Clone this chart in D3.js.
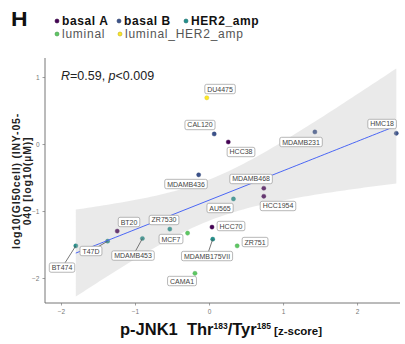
<!DOCTYPE html>
<html><head><meta charset="utf-8">
<script src="https://cdn.jsdelivr.net/npm/d3@7"></script>
<style>
html,body{margin:0;padding:0;background:#fff;}
svg{display:block;font-family:"Liberation Sans",Arial,sans-serif;}
</style></head>
<body><svg id="c" width="405" height="344"></svg>
<script>
// ---- data ----
const cellLines = ["DU4475","CAL120","HCC38","MDAMB231","HMC18","MDAMB436","MDAMB468","HCC1954","AU565","HCC70","ZR751","MDAMB175VII","CAMA1","MCF7","ZR7530","BT20","T47D","MDAMB453","BT474"];
const pJNK = [-0.03,0.07,0.26,1.43,2.53,-0.14,0.74,0.74,0.33,0.04,0.38,0.05,-0.19,-0.53,-0.29,-1.24,-1.37,-0.90,-1.80];
const logGI50 = [0.69,0.15,0.03,0.18,0.16,-0.46,-0.66,-0.78,-0.82,-1.24,-1.52,-1.42,-1.93,-1.27,-1.33,-1.30,-1.45,-1.41,-1.52];
const subtype = ["luminal_HER2_amp","basal B","basal A","basal B","basal B","basal B","basal A","basal A","HER2_amp","basal A","luminal","HER2_amp","luminal","HER2_amp","luminal","basal A","HER2_amp","HER2_amp","HER2_amp"];
// label (repel) positions, data units
const labelX = [0.149,-0.122,0.432,1.243,2.338,-0.311,0.568,0.932,0.149,0.297,0.622,-0.027,-0.365,-0.514,-0.608,-1.081,-1.595,-1.027,-1.986];
const labelY = [0.821,0.284,-0.119,0.030,0.299,-0.597,-0.522,-0.925,-0.955,-1.224,-1.463,-1.672,-2.045,-1.418,-1.134,-1.164,-1.597,-1.665,-1.844];
const connectorNames = ["BT474","T47D","MDAMB453","MDAMB175VII"];
const subtypes = ["basal A","basal B","HER2_amp","luminal","luminal_HER2_amp"];
const subtypeColors = ["#440154","#3B528B","#21908C","#5DC863","#FDE725"];
const xTicks = [-2,-1,0,1,2];
const yTicks = [-2,-1,0,1];
const statText = {R:"0.59", p:"0.009"};

const svg = d3.select("#c");
const x = d3.scaleLinear().domain([-2.216, 2.58]).range([45, 400]);
const y = d3.scaleLinear().domain([-2.373, 1.284]).range([303, 58]);
const col = d3.scaleOrdinal().domain(subtypes).range(subtypeColors);

const pts = cellLines.map((n,i)=>({name:n, x:pJNK[i], y:logGI50[i], s:subtype[i], lx:labelX[i], ly:labelY[i]}));

// ---- axes ----
const xa = svg.append("g").attr("transform","translate(0,303)")
  .call(d3.axisBottom(x).tickValues(xTicks).tickSize(2.5).tickPadding(4).tickFormat(d3.format("d")));
const ya = svg.append("g").attr("transform","translate(45,0)")
  .call(d3.axisLeft(y).tickValues(yTicks).tickSize(2.5).tickPadding(3).tickFormat(d3.format("d")));
[xa,ya].forEach(a=>{
  a.select(".domain").attr("stroke","#666").attr("stroke-width",0.9);
  a.selectAll(".tick line").attr("stroke","#777").attr("stroke-width",0.7);
  a.selectAll(".tick text").attr("fill","#777").attr("font-size","6.5px").attr("font-family","Liberation Sans, Arial, sans-serif");
});
xa.select(".domain").attr("d",`M${x.range()[0]},0H${x.range()[1]}`);
ya.select(".domain").attr("d",`M0,${y.range()[0]}V${y.range()[1]}`);

// ---- points ----
svg.append("g").selectAll("circle").data(pts).join("circle")
  .attr("cx",d=>x(d.x)).attr("cy",d=>y(d.y)).attr("r",2.1)
  .attr("fill",d=>col(d.s)).attr("stroke",d=>d3.color(col(d.s)).darker(0.5)).attr("stroke-width",0.4);

// ---- linear fit + 95% CI (lm) ----
const n = pts.length;
const mx = d3.mean(pts,d=>d.x), my = d3.mean(pts,d=>d.y);
const Sxx = d3.sum(pts,d=>(d.x-mx)**2), Sxy = d3.sum(pts,d=>(d.x-mx)*(d.y-my));
const b = Sxy/Sxx, a0 = my - b*mx;
const sse = d3.sum(pts,d=>(d.y-(a0+b*d.x))**2);
const sigma = Math.sqrt(sse/(n-2));
const tq = 2.1098; // t(0.975, df=17)
const [xmin,xmax] = d3.extent(pts,d=>d.x);
const grid = d3.range(0,81).map(i=>xmin+(xmax-xmin)*i/80);
const band = grid.map(g=>{const se=sigma*Math.sqrt(1/n+(g-mx)**2/Sxx); const f=a0+b*g; return {x:g,f,lo:f-tq*se,hi:f+tq*se};});
svg.append("path").datum(band)
  .attr("d",d3.area().x(d=>x(d.x)).y0(d=>y(d.lo)).y1(d=>y(d.hi)))
  .attr("fill","#b8b8b8").attr("fill-opacity",0.3);
svg.append("path").datum(band)
  .attr("d",d3.line().x(d=>x(d.x)).y(d=>y(d.f)))
  .attr("fill","none").attr("stroke","#4a66f5").attr("stroke-width",1);

// ---- labels ----
const lg = svg.append("g");
const fs = 7;
pts.forEach(d=>{
  const cx = x(d.lx), cy = y(d.ly);
  if (connectorNames.includes(d.name)) {
    lg.append("line").attr("x1",x(d.x)).attr("y1",y(d.y)).attr("x2",cx).attr("y2",cy)
      .attr("stroke","#555").attr("stroke-width",0.8);
  }
});
pts.forEach(d=>{
  const cx = x(d.lx), cy = y(d.ly);
  const t = lg.append("text").attr("x",cx).attr("y",cy+2.5).attr("text-anchor","middle")
    .attr("font-size",fs+"px").attr("fill","#444").text(d.name);
  const w = t.node().getComputedTextLength();
  lg.insert("rect","text:last-child")
    .attr("x",cx-w/2-2.4).attr("y",cy-4.7).attr("width",w+4.8).attr("height",9.4)
    .attr("rx",1.8).attr("fill","#fff").attr("stroke","#999").attr("stroke-width",0.7);
});

// ---- stat annotation ----
const st = svg.append("text").attr("x",61).attr("y",80).attr("font-size","12.5px").attr("fill","#222");
st.append("tspan").attr("font-style","italic").text("R");
st.append("tspan").text("="+statText.R+", ");
st.append("tspan").attr("font-style","italic").text("p");
st.append("tspan").text("<"+statText.p);

// ---- panel letter ----
svg.append("text").attr("x",11).attr("y",26).attr("font-size","20px").attr("font-weight","bold")
  .attr("fill","#111").attr("transform","translate(11,26) scale(1.15,1) translate(-11,-26)").text("H");

// ---- legend ----
const legPos = [[57,21,true],[119,21,true],[186,21,true],[57,34,false],[120,34,false]];
subtypes.forEach((s,i)=>{
  const [lx,ly,bold] = legPos[i];
  svg.append("circle").attr("cx",lx).attr("cy",ly).attr("r",2)
    .attr("fill",col(s)).attr("stroke",d3.color(col(s)).darker(0.8)).attr("stroke-width",0.6);
  svg.append("text").attr("x",lx+5).attr("y",ly+4.2).attr("font-size","12px")
    .attr("font-weight",bold?"bold":"normal").attr("letter-spacing",bold?"0.6px":"0.75px")
    .attr("fill",bold?"#111":"#555").text(s);
});

// ---- axis titles ----
const xt = svg.append("text").attr("x",221).attr("y",335).attr("text-anchor","middle")
  .attr("font-weight","bold").attr("fill","#111").attr("font-size","16.5px");
xt.append("tspan").text("p-JNK1\u00a0\u00a0Thr");
xt.append("tspan").attr("font-size","8.5px").attr("dy",-6.5).text("183");
xt.append("tspan").attr("dy",6.5).text("/Tyr");
xt.append("tspan").attr("font-size","8.5px").attr("dy",-6.5).text("185");
xt.append("tspan").attr("dy",6.5).attr("font-size","11.5px").text(" [z-score]");

const yt = svg.append("text").attr("transform","translate(0,181) rotate(-90)")
  .attr("text-anchor","middle").attr("font-size","10.5px").attr("font-weight","bold")
  .attr("fill","#222").attr("letter-spacing","0.8px");
yt.append("tspan").attr("x",0).attr("y",20).text("log10(GI50cell) (INY-05-");
yt.append("tspan").attr("x",0).attr("y",31).text("040 [log10(\u00b5M)]");
</script></body></html>
